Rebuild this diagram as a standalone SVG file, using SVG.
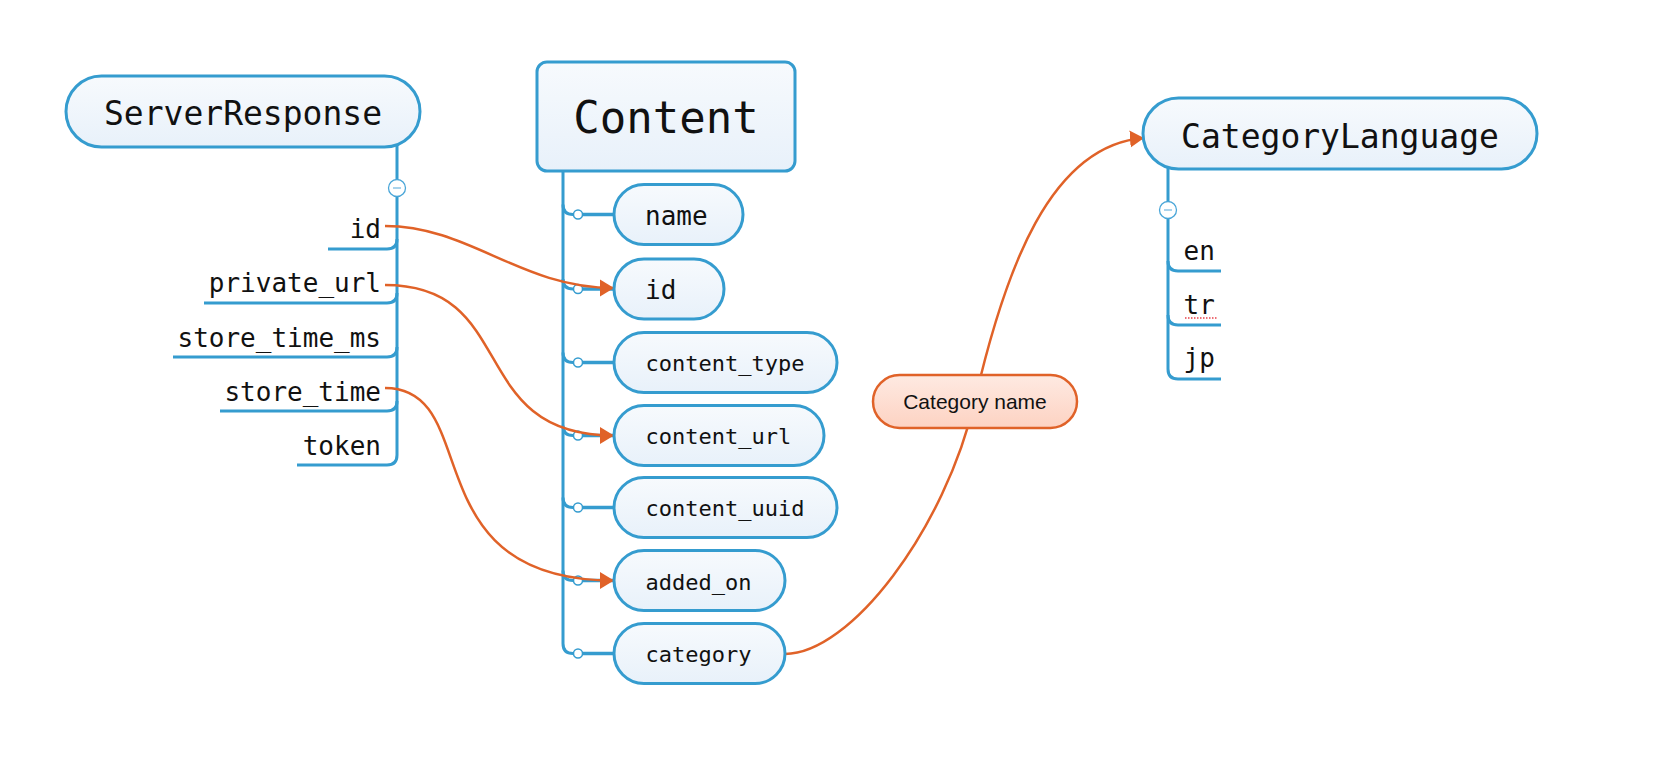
<svg xmlns="http://www.w3.org/2000/svg" width="1676" height="780" viewBox="0 0 1676 780">
<defs>
<linearGradient id="gBlue" x1="0" y1="0" x2="0" y2="1"><stop offset="0" stop-color="#f7fafd"/><stop offset="1" stop-color="#e8f1fa"/></linearGradient>
<linearGradient id="gOrange" x1="0" y1="0" x2="0" y2="1"><stop offset="0" stop-color="#feeae2"/><stop offset="1" stop-color="#fdd2c2"/></linearGradient>
<marker id="arr" markerUnits="userSpaceOnUse" markerWidth="16" markerHeight="18" viewBox="0 0 16 18" refX="14" refY="9" orient="auto"><path d="M0,0.5 L14,9 L0,17.5 z" fill="#e06228"/></marker>
</defs>
<style>
.node{fill:url(#gBlue);stroke:#359ccf;stroke-width:3}
.label{fill:url(#gOrange);stroke:#e06228;stroke-width:2.5}
.line{fill:none;stroke:#359ccf;stroke-width:3}
.knob{fill:#fff;stroke:#359ccf;stroke-width:1.5}
.btn{fill:#fff;stroke:#4aa6d8;stroke-width:1.3}
.minus{stroke:#8cc4e6;stroke-width:1.5}
.rel{fill:none;stroke:#e06228;stroke-width:2.5}
.mono{font-family:"DejaVu Sans Mono","Liberation Mono",monospace;fill:#111}
.sans{font-family:"Liberation Sans",Arial,sans-serif;fill:#111}
</style>
<rect width="1676" height="780" fill="#fff"/>

<g id="connectors">
  <!-- ServerResponse structure -->
  <path class="line" d="M397,145 V455 Q397,465 387,465 H297"/>
  <path class="line" d="M328,249 H387 Q397,249 397,239"/>
  <path class="line" d="M204,303 H387 Q397,303 397,293"/>
  <path class="line" d="M173,357 H387 Q397,357 397,347"/>
  <path class="line" d="M220,411 H387 Q397,411 397,401"/>
  <circle class="btn" cx="397" cy="188" r="8.5"/>
  <line class="minus" x1="393" y1="188" x2="401" y2="188"/>

  <!-- Content structure -->
  <path class="line" d="M563,171 V643.5 Q563,653.5 573,653.5"/>
  <path class="line" d="M563,204.5 Q563,214.5 573,214.5"/>
  <path class="line" d="M563,279 Q563,289 573,289"/>
  <path class="line" d="M563,352.5 Q563,362.5 573,362.5"/>
  <path class="line" d="M563,425.5 Q563,435.5 573,435.5"/>
  <path class="line" d="M563,497.5 Q563,507.5 573,507.5"/>
  <path class="line" d="M563,570.5 Q563,580.5 573,580.5"/>
  <path class="line" d="M582,214.5 H614 M582,289 H614 M582,362.5 H614 M582,435.5 H614 M582,507.5 H614 M582,580.5 H614 M582,653.5 H614" style="stroke-width:3.5"/>
  <circle class="knob" cx="578" cy="214.5" r="4.5"/>
  <circle class="knob" cx="578" cy="289" r="4.5"/>
  <circle class="knob" cx="578" cy="362.5" r="4.5"/>
  <circle class="knob" cx="578" cy="435.5" r="4.5"/>
  <circle class="knob" cx="578" cy="507.5" r="4.5"/>
  <circle class="knob" cx="578" cy="580.5" r="4.5"/>
  <circle class="knob" cx="578" cy="653.5" r="4.5"/>

  <!-- CategoryLanguage structure -->
  <path class="line" d="M1168,167 V369 Q1168,379 1178,379 H1221"/>
  <path class="line" d="M1168,261 Q1168,271 1178,271 H1221"/>
  <path class="line" d="M1168,315 Q1168,325 1178,325 H1221"/>
  <circle class="btn" cx="1168" cy="210" r="8.5"/>
  <line class="minus" x1="1164" y1="210" x2="1172" y2="210"/>

  <!-- relations -->
  <path class="rel" d="M385,226 C470,226 520,288 614,288" marker-end="url(#arr)"/>
  <path class="rel" d="M385,285 C520,285 465,435.5 614,435.5" marker-end="url(#arr)"/>
  <path class="rel" d="M385,388 C485,388 410,580.5 614,580.5" marker-end="url(#arr)"/>
  <path class="rel" d="M785,654 C850,654 945,530 975,400 C1005,270 1050,145 1144,138" marker-end="url(#arr)"/>
</g>

<g id="node-serverresponse">
  <rect class="node" x="66" y="76" width="354" height="71" rx="35.5"/>
  <text class="mono" x="243" y="124.5" font-size="33" text-anchor="middle">ServerResponse</text>
</g>
<g id="node-sr-fields" class="mono" font-size="26" text-anchor="end">
  <text x="381" y="238">id</text>
  <text x="381" y="292">private_url</text>
  <text x="381" y="346.5">store_time_ms</text>
  <text x="381" y="400.5">store_time</text>
  <text x="381" y="454.5">token</text>
</g>

<g id="node-content">
  <rect class="node" x="537" y="62" width="258" height="109" rx="10"/>
  <text class="mono" x="666" y="133" font-size="44" text-anchor="middle">Content</text>
</g>
<g id="node-name">
  <rect class="node" x="614" y="184.5" width="129" height="60" rx="30"/>
  <text class="mono" x="645" y="225" font-size="26">name</text>
</g>
<g id="node-id">
  <rect class="node" x="614" y="259" width="110" height="60" rx="30"/>
  <text class="mono" x="645" y="299" font-size="26">id</text>
</g>
<g id="node-content_type">
  <rect class="node" x="614" y="332.5" width="223" height="60" rx="30"/>
  <text class="mono" x="645.5" y="371" font-size="22">content_type</text>
</g>
<g id="node-content_url">
  <rect class="node" x="614" y="405.5" width="210" height="60" rx="30"/>
  <text class="mono" x="645.5" y="444" font-size="22">content_url</text>
</g>
<g id="node-content_uuid">
  <rect class="node" x="614" y="477.5" width="223" height="60" rx="30"/>
  <text class="mono" x="645.5" y="516" font-size="22">content_uuid</text>
</g>
<g id="node-added_on">
  <rect class="node" x="614" y="550.5" width="171" height="60" rx="30"/>
  <text class="mono" x="645.5" y="589.5" font-size="22">added_on</text>
</g>
<g id="node-category">
  <rect class="node" x="614" y="623.5" width="171" height="60" rx="30"/>
  <text class="mono" x="645.5" y="662" font-size="22">category</text>
</g>

<g id="node-category-name">
  <rect class="label" x="873" y="375" width="204" height="53" rx="26.5"/>
  <text class="sans" x="975" y="408.5" font-size="21" text-anchor="middle">Category name</text>
</g>

<g id="node-categorylanguage">
  <rect class="node" x="1143" y="98" width="394" height="71" rx="35.5"/>
  <text class="mono" x="1340" y="147.5" font-size="33" text-anchor="middle">CategoryLanguage</text>
</g>
<g id="node-cl-fields" class="mono" font-size="26">
  <text x="1183.5" y="260">en</text>
  <text x="1183.5" y="314">tr</text>
  <text x="1183.5" y="367">jp</text>
  <line x1="1185" y1="318" x2="1217" y2="318" stroke="#e8404a" stroke-width="1.3" stroke-dasharray="1.5,1.5"/>
</g>
</svg>
